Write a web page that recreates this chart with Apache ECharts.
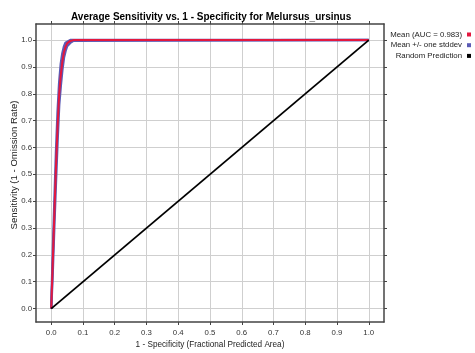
<!DOCTYPE html>
<html>
<head>
<meta charset="utf-8">
<script src="https://cdn.jsdelivr.net/npm/echarts@6/dist/echarts.min.js"></script>
<style>html,body{margin:0;padding:0;background:#fff}#c{width:475px;height:353px}</style>
</head>
<body>
<div id="c"></div>
<script>
// ---- data ----
const fpr      = [0, 0.005, 0.010, 0.015, 0.020, 0.025, 0.030, 0.035, 0.040, 0.045, 0.050, 0.060, 0.070, 1.0];
const meanTpr  = [0, 0.18, 0.36, 0.53, 0.68, 0.80, 0.87, 0.92, 0.955, 0.975, 0.988, 0.997, 1.0, 1.0];
const upperTpr = [0, 0.21, 0.40, 0.58, 0.73, 0.84, 0.91, 0.95, 0.975, 0.99, 0.997, 1.0, 1.0, 1.0];
const lowerTpr = [0, 0.15, 0.32, 0.48, 0.63, 0.76, 0.83, 0.89, 0.935, 0.96, 0.978, 0.99, 0.998, 1.0];
const randomX  = [0, 1];
const randomY  = [0, 1];
const tickValues = [0, 0.1, 0.2, 0.3, 0.4, 0.5, 0.6, 0.7, 0.8, 0.9, 1.0];
const names = ['Mean (AUC = 0.983)', 'Mean +/- one stddev', 'Random Prediction'];
const titleText = 'Average Sensitivity vs. 1 - Specificity for Melursus_ursinus';
const xName = '1 - Specificity (Fractional Predicted Area)';
const yName = 'Sensitivity (1 - Omission Rate)';

const zip = (xs, ys) => xs.map((x, i) => [x, ys[i]]);
const FONT = '"Liberation Sans", Arial, sans-serif';
const RED = '#e3173e', BLUE = '#5b5bb5', BLACK = '#000';

function axis(pos, showLabel, name) {
  const horiz = pos === 'bottom' || pos === 'top';
  return {
    type: 'value', position: pos,
    min: horiz ? -0.048 : -0.05,
    max: horiz ? 1.048 : 1.06,
    name: name || '', nameLocation: 'middle',
    nameGap: pos === 'bottom' ? 19 : 17,
    nameMoveOverlap: false,
    nameTextStyle: { fontFamily: FONT, fontSize: pos === 'bottom' ? 8.2 : 9.6, color: '#222',
      padding: pos === 'left' ? [0, 0, 0, 16] : 0 },
    axisLine: { show: true, onZero: false, lineStyle: { color: '#444', width: 1.5 } },
    axisTick: { show: true, inside: false, length: 3, customValues: tickValues, lineStyle: { color: '#444' } },
    axisLabel: { show: showLabel, customValues: tickValues, margin: horiz ? 7 : 4,
      fontFamily: FONT, fontSize: 7.8, color: '#333', formatter: v => v.toFixed(1) },
    splitLine: { show: showLabel, lineStyle: { color: '#cfcfcf', width: 1 } }
  };
}

const chart = echarts.init(document.getElementById('c'), null, { renderer: 'canvas' });
chart.setOption({
  animation: false,
  backgroundColor: '#fff',
  title: { text: titleText, left: 71, top: 12, padding: 0,
    textStyle: { fontFamily: FONT, fontSize: 10, fontWeight: 'bold', color: '#000' } },
  grid: { left: 36, right: 91, top: 24, bottom: 31, show: false, containLabel: false, outerBoundsMode: 'none' },
  xAxis: [axis('bottom', true, xName), axis('top', false)],
  yAxis: [axis('left', true, yName), axis('right', false)],
  legend: names.map((n, i) => ({
    data: [n], orient: 'vertical', right: 4, top: 30.5 + i * 10.7, padding: 0,
    icon: 'rect', itemWidth: 4, itemHeight: 4, itemGap: 0, align: 'right',
    selectedMode: false,
    textStyle: { fontFamily: FONT, fontSize: 7.8, color: '#222', padding: [0, 0, 0, 0] }
  })),
  series: [
    { name: names[1], type: 'line', data: zip(fpr, upperTpr), showSymbol: false, symbol: 'none',
      lineStyle: { color: BLUE, width: 2.5 }, itemStyle: { color: BLUE }, z: 2 },
    { name: names[1], type: 'line', data: zip(fpr, lowerTpr), showSymbol: false, symbol: 'none',
      lineStyle: { color: BLUE, width: 2.5 }, itemStyle: { color: BLUE }, z: 2 },
    { name: names[0], type: 'line', data: zip(fpr, meanTpr), showSymbol: false, symbol: 'none',
      lineStyle: { color: RED, width: 2 }, itemStyle: { color: RED }, z: 3 },
    { name: names[2], type: 'line', data: zip(randomX, randomY), showSymbol: false, symbol: 'none',
      lineStyle: { color: BLACK, width: 1.8 }, itemStyle: { color: BLACK }, z: 4 }
  ]
});
</script>
</body>
</html>
